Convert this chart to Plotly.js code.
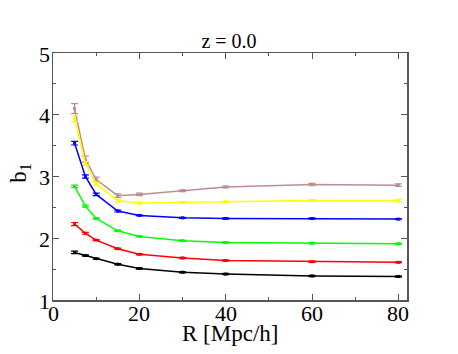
<!DOCTYPE html>
<html>
<head>
<meta charset="utf-8">
<script src="https://cdn.plot.ly/plotly-3.0.1.min.js"></script>
<style>
  body { margin: 0; background: #fff; }
  #chart { width: 458px; height: 354px; }
</style>
</head>
<body>
<div id="chart"></div>
<script>
// radius values (Mpc/h)
var R = [5, 7.5, 10, 15, 20, 30, 40, 60, 80];

// b1 for each sample
var bBrown  = [4.10, 3.28, 2.95, 2.69, 2.71, 2.77, 2.83, 2.87, 2.86];
var bYellow = [3.94, 3.21, 2.88, 2.61, 2.57, 2.58, 2.59, 2.61, 2.61];
var bBlue   = [3.54, 3.00, 2.71, 2.44, 2.37, 2.33, 2.32, 2.32, 2.31];
var bGreen  = [2.84, 2.52, 2.32, 2.12, 2.03, 1.96, 1.93, 1.92, 1.91];
var bRed    = [2.23, 2.08, 1.97, 1.83, 1.74, 1.68, 1.64, 1.62, 1.61];
var bBlack  = [1.77, 1.72, 1.67, 1.58, 1.51, 1.45, 1.42, 1.39, 1.38];

// error bars
var eBrown  = [0.08, 0.05, 0.04, 0.03, 0.02, 0.015, 0.015, 0.02, 0.02];
var eYellow = [0.05, 0.03, 0.025, 0.02, 0.015, 0.01, 0.01, 0.015, 0.02];
var eBlue   = [0.03, 0.025, 0.02, 0.015, 0.01, 0.01, 0.01, 0.01, 0.01];
var eGreen  = [0.02, 0.015, 0.01, 0.01, 0.01, 0.01, 0.01, 0.01, 0.01];
var eRed    = [0.025, 0.015, 0.01, 0.01, 0.01, 0.01, 0.01, 0.01, 0.01];
var eBlack  = [0.02, 0.01, 0.01, 0.01, 0.01, 0.01, 0.01, 0.01, 0.01];

// tick labels
var xTicks = [0, 20, 40, 60, 80];
var yTicks = [1, 2, 3, 4, 5];

var series = [
  [bBrown, eBrown, '#bc8f8f'],
  [bYellow, eYellow, '#ffff00'],
  [bBlue, eBlue, '#0000ff'],
  [bGreen, eGreen, '#00ff00'],
  [bRed, eRed, '#ff0000'],
  [bBlack, eBlack, '#000000']
];

var data = series.map(function (s) {
  return {
    x: R,
    y: s[0],
    mode: 'lines+markers',
    type: 'scatter',
    line: {color: s[2], width: 1.5},
    marker: {color: s[2], size: 3, symbol: 'square'},
    error_y: {type: 'data', array: s[1], visible: true, color: s[2], thickness: 1.2, width: 3.5},
    showlegend: false
  };
});

var serif = 'Liberation Serif';

// tick labels sit tighter to the frame than plotly's default, so place them as annotations
var notes = [];
xTicks.forEach(function (v) {
  notes.push({text: String(v), xref: 'x', yref: 'paper', x: v, y: 0,
    xanchor: 'center', yanchor: 'top', yshift: 1, showarrow: false,
    font: {family: serif, size: 22, color: '#000'}});
});
yTicks.forEach(function (v) {
  notes.push({text: String(v), xref: 'paper', yref: 'y', x: 0, y: v,
    xanchor: 'right', yanchor: 'middle', xshift: -1, yshift: -1, showarrow: false,
    font: {family: serif, size: 22, color: '#000'}});
});
notes.push({text: 'R [Mpc/h]', xref: 'paper', yref: 'paper', x: 0.5, y: 0,
  xanchor: 'center', yanchor: 'top', yshift: -19, showarrow: false,
  font: {family: serif, size: 23, color: '#000'}});
notes.push({text: 'b<sub>1</sub>', xref: 'paper', yref: 'paper', x: -0.093, y: 0.515,
  xanchor: 'center', yanchor: 'middle', textangle: -90, showarrow: false,
  font: {family: serif, size: 23, color: '#000'}});

var layout = {
  width: 458,
  height: 354,
  margin: {l: 53, r: 51, t: 53, b: 54},
  paper_bgcolor: '#fff',
  plot_bgcolor: '#fff',
  font: {family: serif, size: 22, color: '#000'},
  title: {text: 'z = 0.0', font: {family: serif, size: 20, color: '#000'}, x: 0.5, xanchor: 'center', y: 0.885, yanchor: 'middle'},
  xaxis: {
    range: [0, 82],
    tickmode: 'array',
    tickvals: xTicks,
    showticklabels: false,
    ticks: 'inside', ticklen: 6, tickcolor: '#555', tickwidth: 1,
    minor: {dtick: 10, tick0: 0, ticks: 'inside', ticklen: 3, tickcolor: '#555'},
    showline: true, linecolor: '#555', linewidth: 1.5, mirror: 'ticks',
    showgrid: false, zeroline: false
  },
  yaxis: {
    range: [1, 5],
    tickmode: 'array',
    tickvals: yTicks,
    showticklabels: false,
    ticks: 'inside', ticklen: 6, tickcolor: '#555', tickwidth: 1,
    minor: {dtick: 0.5, tick0: 1, ticks: 'inside', ticklen: 3, tickcolor: '#555'},
    showline: true, linecolor: '#555', linewidth: 1.5, mirror: 'ticks',
    showgrid: false, zeroline: false
  },
  annotations: notes
};

Plotly.newPlot('chart', data, layout, {displayModeBar: false, staticPlot: true});
</script>
</body>
</html>
